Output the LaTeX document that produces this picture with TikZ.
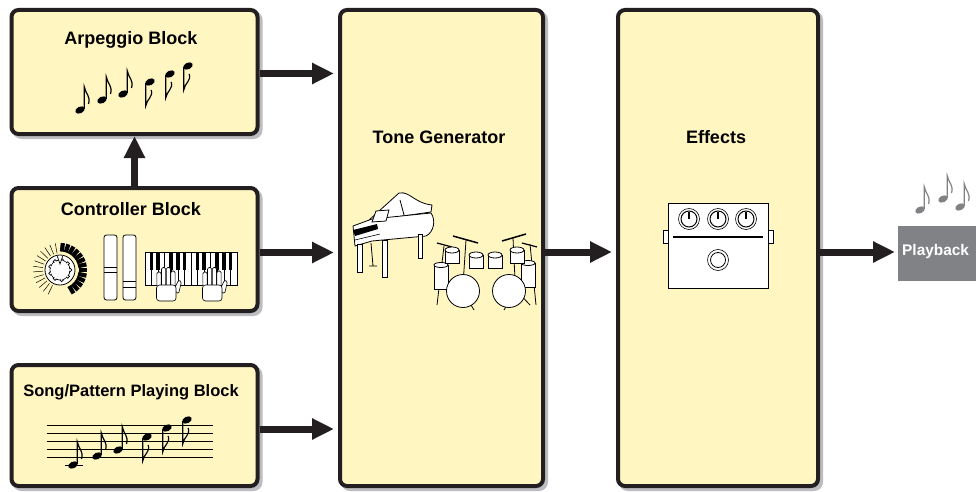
\documentclass[tikz,border=0pt]{standalone}
\usepackage{fontspec}
\setsansfont{Liberation Sans}
\usetikzlibrary{arrows.meta,shadows}

\definecolor{blockfill}{RGB}{255,246,193}
\definecolor{blockline}{RGB}{35,31,32}
\definecolor{shadowgray}{RGB}{188,189,192}
\definecolor{playgray}{RGB}{128,130,133}

\tikzset{
  block/.style={draw=blockline, line width=4pt, fill=blockfill, rounded corners=7pt, inner sep=0pt,
    drop shadow={shadow xshift=3pt, shadow yshift=-3pt, draw=shadowgray, fill=shadowgray, opacity=1}},
  blocktitle/.style={font=\sffamily\bfseries\fontsize{18}{20}\selectfont, anchor=base, inner sep=0pt},
  flow/.style={draw=blockline, line width=7pt, -{Triangle[length=22pt,width=20pt]}},
  icon/.style={draw=black, fill=white, line width=0.8pt},
  noteup/.pic={
    \fill[rotate=25] (0,0) ellipse [x radius=5, y radius=3.3];
    \draw[line width=1.2pt] (4.3,-1) -- (4.3,-23) .. controls (5.5,-16) and (11,-14) .. (8.5,-6);
  },
  notedown/.pic={
    \fill[rotate=25] (0,0) ellipse [x radius=5, y radius=3.3];
    \draw[line width=1.2pt] (-4.3,1) -- (-4.3,24) .. controls (-3.3,17) and (3.5,15) .. (1.2,8);
  },
  hand/.pic={
    \draw[icon, line width=0.6pt, rounded corners=1.5pt] (8,6) -- (12.5,-4) -- (15.5,-2.5) -- (12.5,10) -- cycle;
    \foreach \x/\h in {-7/-12,-2.4/-16.5,2.4/-16.5,7/-13}
      \draw[icon, line width=0.6pt, rounded corners=1.5pt] (\x-2.1,3) rectangle (\x+2.1,\h);
    \draw[icon, line width=0.6pt, rounded corners=3pt] (-9.5,1) rectangle (10,17);
  },
}

\begin{document}
\begin{tikzpicture}[x=1pt,y=-1pt]
\path[use as bounding box, fill=white] (0,0) rectangle (976,492);
\clip (0,0) rectangle (976,492);

% blocks
\node[block, minimum width=246pt, minimum height=124pt] (arp) at (134.5,72) {};
\node[block, minimum width=246pt, minimum height=123pt] (ctrl) at (134.5,249.5) {};
\node[block, minimum width=246pt, minimum height=121pt] (song) at (134.5,425.5) {};
\node[block, minimum width=203pt, minimum height=476pt] (tone) at (441.5,248) {};
\node[block, minimum width=200pt, minimum height=476pt] (fx) at (718,248) {};
\node[fill=playgray, minimum width=92pt, minimum height=55pt, inner sep=0pt, anchor=west] (play) at (898,253.5) {};

\node[blocktitle] (arptitle) at (131,44.3) {Arpeggio Block};
\node[blocktitle] (ctrltitle) at (131,215) {Controller Block};
\node[blocktitle, font=\sffamily\bfseries\fontsize{16.5}{18}\selectfont] (songtitle) at (131,396) {Song/Pattern Playing Block};
\node[blocktitle] (tonetitle) at (439,143.3) {Tone Generator};
\node[blocktitle] (fxtitle) at (716,143) {Effects};
\node[blocktitle, anchor=base west, text=white, font=\sffamily\bfseries\fontsize{15.4}{17}\selectfont] (playtitle) at (902,255) {Playback};

% arrows
\draw[flow, shorten >=4pt] ([yshift=-1.5pt]arp.east) -- ([yshift=-1.5pt]arp.east -| tone.west);
\draw[flow, shorten >=4pt] ([yshift=-3pt]ctrl.east) -- ([yshift=-3pt]ctrl.east -| tone.west);
\draw[flow, shorten >=4pt] ([yshift=-3.5pt]song.east) -- ([yshift=-3.5pt]song.east -| tone.west);
\draw[flow, shorten >=4pt] ([yshift=-4pt]tone.east) -- ([yshift=-4pt]tone.east -| fx.west);
\draw[flow, shorten >=3pt] ([yshift=-4pt]fx.east) -- ([yshift=-4pt]fx.east -| play.west);
\draw[flow] (ctrl.north) -- (arp.south);

% arpeggio notes
\foreach \x/\y in {80/110,102/100,123/94} \pic at (\x,\y) {noteup};
\foreach \x/\y in {150/82,170/74,188/66} \pic at (\x,\y) {notedown};

% staff and notes
\foreach \y in {425,433,441,449,457} \draw[line width=0.7pt] (47,\y) -- (213,\y);
\draw[line width=0.7pt] (65,465) -- (83,465);
\foreach \x/\y in {73/465,97/456,118/450} \pic at (\x,\y) {noteup};
\foreach \x/\y in {147/437,167/428,187/420} \pic at (\x,\y) {notedown};

% playback notes
\foreach \x/\y in {920/210,943/199,960/207} \pic[playgray] at (\x,\y) {noteup};

% knob
\begin{scope}[shift={(60,270)}]
  \foreach \a in {100,112,...,244} \draw[line width=0.5pt] (-\a:17) -- (-\a:27);
  \foreach \a in {300,312,...,450} \draw[line width=4.2pt] (-\a:18.5) -- (-\a:27);
  \draw[icon] (0,0) circle (15);
  \draw[line width=0.7pt] (0,0) circle (10);
  \foreach \a in {0,40,...,320} \draw[line width=0.7pt, fill=white] (\a:10) circle (1.8);
  \fill[white] (0,0) circle (9.4);
  \draw[fill=white, line width=0.7pt] (-2.8,-14) -- (0,-6) -- (2.8,-14);
\end{scope}

% sliders
\foreach \x in {104,123} \draw[icon, rounded corners=2.5pt] (\x,235) rectangle ++(13,65);
\draw[line width=0.6pt] (104,267) -- (117,267) (104,272) -- (117,272);
\draw[line width=0.6pt] (123,281) -- (136,281) (123,287) -- (136,287);

% keyboard
\draw[icon] (145,252) rectangle (237,285);
\foreach \i in {1,...,13} \draw[line width=0.5pt] ({145+\i*92/14},252) -- ({145+\i*92/14},285);
\foreach \i in {1,2,4,5,6,8,9,11,12,13} \fill ({145+\i*92/14-1.9},252) rectangle ++(3.8,18);
\pic at (166,284) {hand};
\pic at (212,284) {hand};

% piano
\draw[icon, line join=round] (368,221) -- (399,193) .. controls (410,191) and (414,203) .. (432,205) -- (431,212) -- cycle;
\draw[line width=0.8pt] (400,200) -- (407,226);
\draw[icon, line join=round] (353,226) -- (372,219) -- (431,213) .. controls (436,220) and (434,232) .. (426,236) -- (372,241) -- (355,246) -- cycle;
\fill (353,230) -- (377,224) -- (378,229) -- (355,236) -- cycle;
\draw[line width=0.6pt] (355,240) -- (380,234);
\draw[icon] (372,222) -- (376,211) -- (389,210) -- (386,221) -- cycle;
\draw[icon] (357,244) rectangle (362,272);
\draw[icon] (382,240) rectangle (387,277);
\draw[icon] (418,234) rectangle (422,258);
\draw[line width=0.8pt] (371,243) -- (373,266) (369,266) -- (377,266);

% drums
\draw[line width=0.8pt] (466,240) -- (462,300) (450,300) -- (462,290) -- (474,310);
\draw[line width=0.8pt] (513,238) -- (516,300) (504,310) -- (516,290) -- (530,305);
\draw[line width=0.8pt] (444,246) -- (437,305) (530,244) -- (536,305);
\draw[line width=1.5pt] (453,236) -- (478,243);
\draw[line width=1.5pt] (502,241) -- (526,234);
\draw[line width=1.2pt] (437,243) -- (452,247);
\draw[line width=1.2pt] (522,243) -- (537,247);
\foreach \x/\y in {441/265,528/263} {
  \draw[icon] (\x-7,\y) rectangle (\x+7,\y+24);
  \draw[icon] (\x,\y) ellipse [x radius=7, y radius=2.5];
}
\foreach \x/\y in {452/250,476/255,495/255,517/250} {
  \draw[icon] (\x-7,\y) rectangle (\x+7,\y+13);
  \draw[icon] (\x,\y) ellipse [x radius=7, y radius=3];
}
\draw[icon] (463,291) circle (16.5);
\draw[icon] (509,291) circle (16.5);

% pedal
\draw[icon] (663,230) rectangle (668,243);
\draw[icon] (768,230) rectangle (773,243);
\draw[icon] (668,203) rectangle (768,288);
\draw[line width=1.6pt] (673,237) -- (763,237);
\foreach \x in {689,718,746} {
  \draw[line width=0.6pt] (\x,219) circle (10.5);
  \draw[line width=1pt] (\x,219) circle (8);
  \draw[line width=1.6pt] (\x,219) -- (\x,211.5);
}
\draw[line width=0.6pt] (718,260) circle (10.5);
\draw[line width=0.8pt] (718,260) circle (7.5);
\end{tikzpicture}
\end{document}
